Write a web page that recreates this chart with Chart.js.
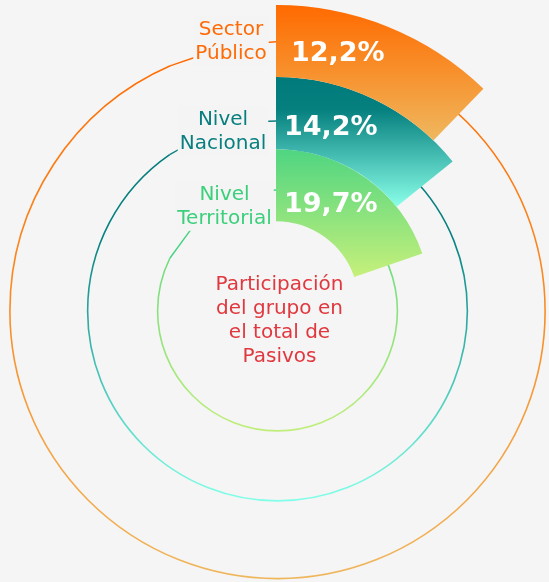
<!DOCTYPE html>
<html>
<head>
<meta charset="utf-8">
<script src="https://cdn.jsdelivr.net/npm/chart.js@4.4.1/dist/chart.umd.min.js"></script>
<style>
  html, body { margin: 0; padding: 0; width: 549px; height: 582px; overflow: hidden; background: #f5f5f5; }
  #wrap { position: absolute; left: -24px; top: 4px; width: 600px; height: 600px; }
</style>
</head>
<body>
<div id="wrap"><canvas id="c" width="600" height="600"></canvas></div>
<script>
// Share of each group in total liabilities (%)
const groups = ['Sector Público', 'Nivel Nacional', 'Nivel Territorial'];
const groupLines = [['Sector', 'Público'], ['Nivel', 'Nacional'], ['Nivel', 'Territorial']];
const shares = [12.2, 14.2, 19.7];
const total = 100;
const centerTitle = ['Participación', 'del grupo en', 'el total de', 'Pasivos'];

const fmt = v => v.toFixed(1).replace('.', ',') + '%';

// Colours per ring (outer to inner)
const palette = [
  { text: '#ff6a05', line: '#ff6a00',
    wedge: [[0, '#ff6a00'], [0.45, '#f88d28'], [1, '#efb85f']],
    guide: [[0, '#ff6a00'], [0.5, '#f98d26'], [1, '#efb65c']] },
  { text: '#087e7f', line: '#0a7e7f',
    wedge: [[0, '#007a7a'], [0.25, '#06807f'], [1, '#8affe9']],
    guide: [[0, '#007a7a'], [0.3, '#068180'], [1, '#82ffe8']] },
  { text: '#3ccf7c', line: '#45d27f',
    wedge: [[0, '#4fd581'], [1, '#c6f07b']],
    guide: [[0, '#4fd581'], [1, '#c0ee7a']] }
];

// Placement of the decorations, in px relative to the chart centre
const layout = {
  guideShift: { x: 1.5, y: 7 },
  guideRadius: [0.895, 0.635, 0.401],     // fraction of the outer radius
  labelCenterX: [-45, -53, -51.5],
  labelBaseline: [-269, -179, -104],
  labelStep: 24,
  valueX: [15, 8, 8],
  valueBaseline: [-243, -169, -92.3],
  leaderAngle: [-23.5, -34.6, -63.9],     // degrees from 12 o'clock on the guide circle
  leaderFoot: [[-80, -247], [-95.5, -155.5], [-84.3, -75.7]],
  leaderSide: [[-9.5, -261.5], [-20, -182.3], [-20.3, -112.3]],
  leaderWedgeY: [-262.3, -183, -114],
  titleX: 3.5, titleBaseline: -14, titleStep: 24
};

const toCanvasAngle = deg => (deg - 90) * Math.PI / 180;

function centerOf(chart) {
  const a = chart.chartArea;
  return { cx: (a.left + a.right) / 2, cy: (a.top + a.bottom) / 2 };
}

function wedgeGradient(context, i) {
  const chart = context.chart;
  if (!chart.chartArea) return palette[i].wedge[0][1];
  const ctrl = chart.getDatasetMeta(i).controller;
  const { cy } = centerOf(chart);
  const outer = ctrl.outerRadius || 0, inner = ctrl.innerRadius || 0;
  const ang = shares[i] / total * 2 * Math.PI;
  const y0 = cy - outer, y1 = cy - inner * Math.cos(ang);
  const g = chart.ctx.createLinearGradient(0, y0, 0, Math.max(y1, y0 + 1));
  palette[i].wedge.forEach(([o, c]) => g.addColorStop(o, c));
  return g;
}

// Thin gradient arcs behind the wedges, running round to each label
const guides = {
  id: 'guides',
  beforeDatasetsDraw(chart) {
    const { ctx } = chart;
    const { cx, cy } = centerOf(chart);
    const R = chart.getDatasetMeta(0).controller.outerRadius;
    const gx = cx + layout.guideShift.x, gy = cy + layout.guideShift.y;
    ctx.save();
    groups.forEach((g, i) => {
      const r = R * layout.guideRadius[i];
      const grad = ctx.createLinearGradient(0, gy - r, 0, gy + r);
      palette[i].guide.forEach(([o, c]) => grad.addColorStop(o, c));
      ctx.beginPath();
      ctx.arc(gx, gy, r, toCanvasAngle(0), toCanvasAngle(360 + layout.leaderAngle[i]));
      ctx.strokeStyle = grad;
      ctx.lineWidth = 1.6;
      ctx.stroke();
    });
    ctx.restore();
  }
};

// Group names with leader lines, value labels and the centre caption
const annotations = {
  id: 'annotations',
  afterDatasetsDraw(chart) {
    const { ctx } = chart;
    const { cx, cy } = centerOf(chart);
    const R = chart.getDatasetMeta(0).controller.outerRadius;
    const gx = cx + layout.guideShift.x, gy = cy + layout.guideShift.y;
    ctx.save();

    groups.forEach((g, i) => {
      const lines = groupLines[i];
      ctx.font = '20px "DejaVu Sans"';
      // leader from the end of the guide arc to the label
      const r = R * layout.guideRadius[i];
      const a = toCanvasAngle(layout.leaderAngle[i]);
      const ax = gx + r * Math.cos(a), ay = gy + r * Math.sin(a);
      ctx.strokeStyle = palette[i].line;
      ctx.lineWidth = 1.4;
      ctx.beginPath();
      ctx.moveTo(ax, ay);
      ctx.lineTo(cx + layout.leaderFoot[i][0], cy + layout.leaderFoot[i][1]);
      ctx.stroke();
      // leader from the label to the wedge
      ctx.beginPath();
      ctx.moveTo(cx + layout.leaderSide[i][0], cy + layout.leaderSide[i][1]);
      ctx.lineTo(cx, cy + layout.leaderWedgeY[i]);
      ctx.stroke();

      // label box
      const lx = cx + layout.labelCenterX[i];
      const b0 = cy + layout.labelBaseline[i];
      const w = Math.max(...lines.map(t => ctx.measureText(t).width));
      const top = b0 - 20 * 0.76 - 4;
      const bottom = b0 + layout.labelStep * (lines.length - 1) + 20 * 0.24 + 2;
      ctx.fillStyle = '#f4f4f4';
      ctx.fillRect(lx - w / 2 - 2, top, w + 4, bottom - top);

      ctx.fillStyle = palette[i].text;
      ctx.textAlign = 'center';
      ctx.textBaseline = 'alphabetic';
      lines.forEach((t, k) => ctx.fillText(t, lx, b0 + k * layout.labelStep));

      // value on the wedge
      ctx.font = 'bold 27px "DejaVu Sans"';
      ctx.fillStyle = '#ffffff';
      ctx.textAlign = 'left';
      ctx.fillText(fmt(shares[i]), cx + layout.valueX[i], cy + layout.valueBaseline[i]);
    });

    // caption in the middle
    ctx.font = '20px "DejaVu Sans"';
    ctx.fillStyle = '#e0383e';
    ctx.textAlign = 'center';
    centerTitle.forEach((t, k) =>
      ctx.fillText(t, cx + layout.titleX, cy + layout.titleBaseline + k * layout.titleStep));
    ctx.restore();
  }
};

new Chart(document.getElementById('c'), {
  type: 'doughnut',
  data: {
    labels: ['Participación', 'Resto'],
    datasets: groups.map((g, i) => ({
      label: g,
      data: [shares[i], total - shares[i]],
      backgroundColor: ctx => ctx.dataIndex === 0 ? wedgeGradient(ctx, i) : 'rgba(0,0,0,0)',
      borderWidth: 0,
      weight: 1
    }))
  },
  options: {
    responsive: false,
    animation: false,
    events: [],
    radius: 299,
    cutout: 83,
    rotation: 0,
    circumference: 360,
    layout: { padding: 0 },
    plugins: { legend: { display: false }, tooltip: { enabled: false } }
  },
  plugins: [guides, annotations]
});
</script>
</body>
</html>
